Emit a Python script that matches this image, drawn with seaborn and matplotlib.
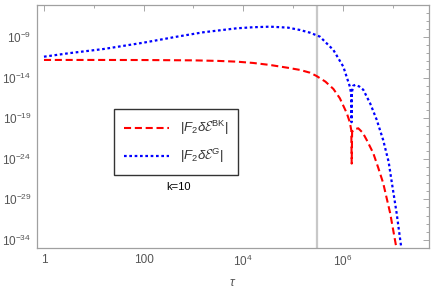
import numpy as np
import pandas as pd
import matplotlib
matplotlib.use("Agg")
import matplotlib.pyplot as plt
import matplotlib.ticker as mticker
import seaborn as sns

sns.set_theme(style="white")
plt.rcParams["font.family"] = ["Liberation Sans", "DejaVu Sans"]
plt.rcParams["mathtext.fontset"] = "custom"
plt.rcParams["mathtext.rm"] = "Liberation Sans"
plt.rcParams["mathtext.it"] = "Liberation Sans:italic"
plt.rcParams["mathtext.cal"] = "cmsy10"

# values, as log10 of tau and log10 of |F2 dE|
log_tau_bk = [0, 1, 2, 3, 3.5, 3.87, 4.2, 4.54, 4.9, 5.14, 5.34, 5.47, 5.65, 5.81, 5.94,
              6.08, 6.14, 6.17, 6.178, 6.186, 6.22, 6.31, 6.40, 6.48, 6.61, 6.71, 6.81,
              6.95, 7.07, 7.12]
log_bk = [-11.83, -11.83, -11.84, -11.88, -11.95, -12.04, -12.2, -12.45, -12.8, -13.06,
          -13.4, -13.8, -14.5, -15.4, -16.55, -18.4, -19.5, -20.5, -24.6, -20.7, -20.4,
          -20.25, -20.8, -21.7, -23.3, -25.1, -27.0, -30.7, -34.8, -36.5]

log_tau_g = [0, 0.5, 1.2, 2.0, 2.67, 3.2, 3.87, 4.2, 4.54, 4.9, 5.14, 5.34, 5.54, 5.81,
             6.01, 6.14, 6.168, 6.175, 6.182, 6.21, 6.25, 6.33, 6.41, 6.55, 6.68, 6.81,
             6.92, 6.98, 7.08, 7.17, 7.22]
log_g = [-11.43, -11.0, -10.48, -9.7, -8.96, -8.42, -7.93, -7.8, -7.73, -7.85, -8.14,
         -8.47, -8.96, -10.6, -12.66, -15.1, -16.0, -19.5, -15.8, -15.0, -14.9, -15.1,
         -15.5, -17.2, -19.2, -21.7, -24.4, -26.8, -30.7, -34.8, -37.0]

tau_mark = 3.0e5
x_labels = {1: "1", 100: "100", 1e4: r"$10^4$", 1e6: r"$10^6$"}
y_exps = [-9, -14, -19, -24, -29, -34]

df_bk = pd.DataFrame({"tau": 10.0 ** np.array(log_tau_bk), "val": 10.0 ** np.array(log_bk)})
df_g = pd.DataFrame({"tau": 10.0 ** np.array(log_tau_g), "val": 10.0 ** np.array(log_g)})

fig = plt.figure(figsize=(4.36, 2.97), dpi=100)
ax = fig.add_axes([37 / 436, 1 - 248 / 297, 392 / 436, 243 / 297])

ax.axvline(tau_mark, color="#c8c8c8", lw=1.6, zorder=1)
sns.lineplot(data=df_bk, x="tau", y="val", ax=ax, color="#ff0000", lw=1.5,
             linestyle=(0, (3.4, 1.8)), label=r"$|F_2\delta\mathcal{E}^{\rm BK}|$", sort=False)
sns.lineplot(data=df_g, x="tau", y="val", ax=ax, color="#0000ff", lw=1.6,
             linestyle=(0, (1.2, 1.2)), label=r"$|F_2\delta\mathcal{E}^{G}|$", sort=False)

ax.set_xscale("log")
ax.set_yscale("log")
ax.set_xlim(10 ** -0.14, 10 ** 7.73)
ax.set_ylim(1e-35, 10 ** -5.06)

gray = "#555555"
ax.xaxis.set_major_locator(mticker.FixedLocator(list(x_labels.keys())))
ax.xaxis.set_major_formatter(mticker.FixedFormatter(list(x_labels.values())))
ax.xaxis.set_minor_locator(mticker.FixedLocator([10 ** k for k in range(0, 8)]))
ax.xaxis.set_minor_formatter(mticker.NullFormatter())
ax.yaxis.set_major_locator(mticker.FixedLocator([10.0 ** e for e in y_exps]))
ax.yaxis.set_major_formatter(mticker.FixedFormatter([r"$10^{%d}$" % e for e in y_exps]))
ax.yaxis.set_minor_locator(mticker.FixedLocator([10.0 ** e for e in range(-35, -5)]))
ax.yaxis.set_minor_formatter(mticker.NullFormatter())

ax.tick_params(which="both", direction="in", top=True, right=True, colors="#999999",
               labelcolor=gray, labelsize=8.5, width=0.6, pad=4)
ax.tick_params(which="major", length=4)
ax.tick_params(which="minor", length=2)
for s in ax.spines.values():
    s.set_color("#a0a0a0")
    s.set_linewidth(0.9)

ax.set_xlabel(r"$\tau$", color=gray, fontsize=9, labelpad=6)
ax.set_ylabel("")

leg = ax.legend(loc="upper left", bbox_to_anchor=(0.197, 0.571), borderaxespad=0,
                frameon=True, fancybox=False, edgecolor="black", fontsize=9.5,
                handlelength=3.4, borderpad=0.75, labelspacing=0.75, handletextpad=0.8)
leg.get_frame().set_linewidth(1.0)
for t in leg.get_texts():
    t.set_color("#333333")

ax.text(0.36, 0.25, "k=10", transform=ax.transAxes, fontsize=8, ha="center",
        va="center", color="black")

fig.savefig("out.png", dpi=100)
